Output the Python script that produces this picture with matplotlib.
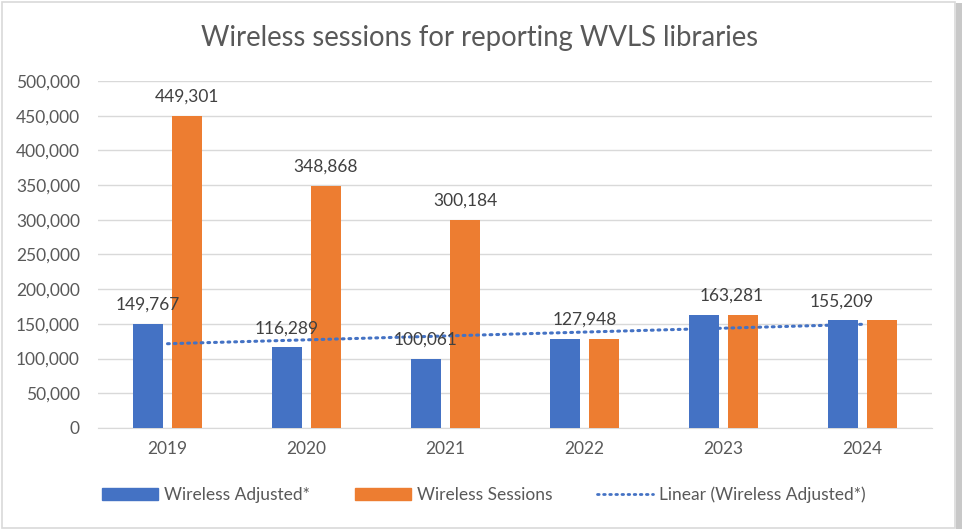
import numpy as np
import matplotlib.pyplot as plt
from matplotlib.patches import Rectangle
from matplotlib.lines import Line2D

years = ["2019", "2020", "2021", "2022", "2023", "2024"]
adjusted = [149767, 116289, 100061, 127948, 163281, 155209]
sessions = [449301, 348868, 300184, 127948, 163281, 155209]
yticks = [0, 50000, 100000, 150000, 200000, 250000, 300000, 350000, 400000, 450000, 500000]

# where the single label sits for years where both series match (hand-placed in original)
shared_label_shift = {3: 0.0, 4: 0.06, 5: -0.15}

BLUE = "#4472C4"
ORANGE = "#ED7D31"
TXT = "#595959"

plt.rcParams['font.family'] = ['Lato', 'DejaVu Sans']

fig = plt.figure(figsize=(9.63, 5.29), dpi=100)
W, H = 963, 529
ax = fig.add_axes([98 / W, (H - 428) / H, (932 - 98) / W, (428 - 81) / H])

x = np.arange(len(years))
off, bw = 0.14, 0.22
ax.bar(x - off, adjusted, bw, color=BLUE, zorder=3, label="Wireless Adjusted*")
ax.bar(x + off, sessions, bw, color=ORANGE, zorder=3, label="Wireless Sessions")

# linear trendline of the adjusted series
k, b = np.polyfit(x, adjusted, 1)
ax.plot(x, k * x + b, color=BLUE, lw=2.2, linestyle=(0, (0.6, 1.6)),
        dash_capstyle="round", zorder=4, label="Linear (Wireless Adjusted*)")

# data labels
fs = 12.5
gap = 16000
for i in range(len(years)):
    if adjusted[i] == sessions[i]:
        ax.text(x[i] + shared_label_shift.get(i, 0), adjusted[i] + gap, f"{adjusted[i]:,}",
                ha="center", va="bottom", fontsize=fs, color="#404040", zorder=5)
    else:
        ax.text(x[i] - off, adjusted[i] + gap, f"{adjusted[i]:,}", ha="center",
                va="bottom", fontsize=fs, color="#404040", zorder=5)
        ax.text(x[i] + off, sessions[i] + gap, f"{sessions[i]:,}", ha="center",
                va="bottom", fontsize=fs, color="#404040", zorder=5)

ax.set_xlim(-0.5, len(years) - 0.5)
ax.set_ylim(0, 500000)
ax.set_yticks(yticks)
ax.set_yticklabels([f"{v:,}" for v in yticks])
ax.set_xticks(x)
ax.set_xticklabels(years)
ax.tick_params(axis="both", length=0, labelsize=fs, colors=TXT)
ax.tick_params(axis="y", pad=13)
ax.tick_params(axis="x", pad=9)
ax.grid(axis="y", color="#D9D9D9", lw=1, zorder=0)
for s in ["top", "right", "left"]:
    ax.spines[s].set_visible(False)
ax.spines["bottom"].set_color("#D9D9D9")

fig.text(480 / W, 1 - 38 / H, "Wireless sessions for reporting WVLS libraries",
         ha="center", va="center", fontsize=19.8, color=TXT)

handles = [Rectangle((0, 0), 1, 1, color=BLUE), Rectangle((0, 0), 1, 1, color=ORANGE),
           Line2D([0], [0], color=BLUE, lw=2, linestyle=(0, (0.6, 1.6)), dash_capstyle="round")]
fig.legend(handles, ["Wireless Adjusted*", "Wireless Sessions", "Linear (Wireless Adjusted*)"],
           loc="center", bbox_to_anchor=(484 / W, 1 - 495 / H), ncol=3, frameon=False,
           fontsize=fs, labelcolor=TXT, handlelength=3.2, handleheight=0.63,
           columnspacing=2.6, handletextpad=0.35)

# chart frame and shadow
fig.patches.append(Rectangle((2 / W, 1 / H), 953 / W, 526 / H, transform=fig.transFigure,
                             fill=False, edgecolor="#D9D9D9", lw=1.2))
fig.patches.append(Rectangle((956 / W, 0), 6 / W, 526 / H, transform=fig.transFigure,
                             color="#C8C8C8", lw=0))

fig.savefig("out.png", dpi=100)
